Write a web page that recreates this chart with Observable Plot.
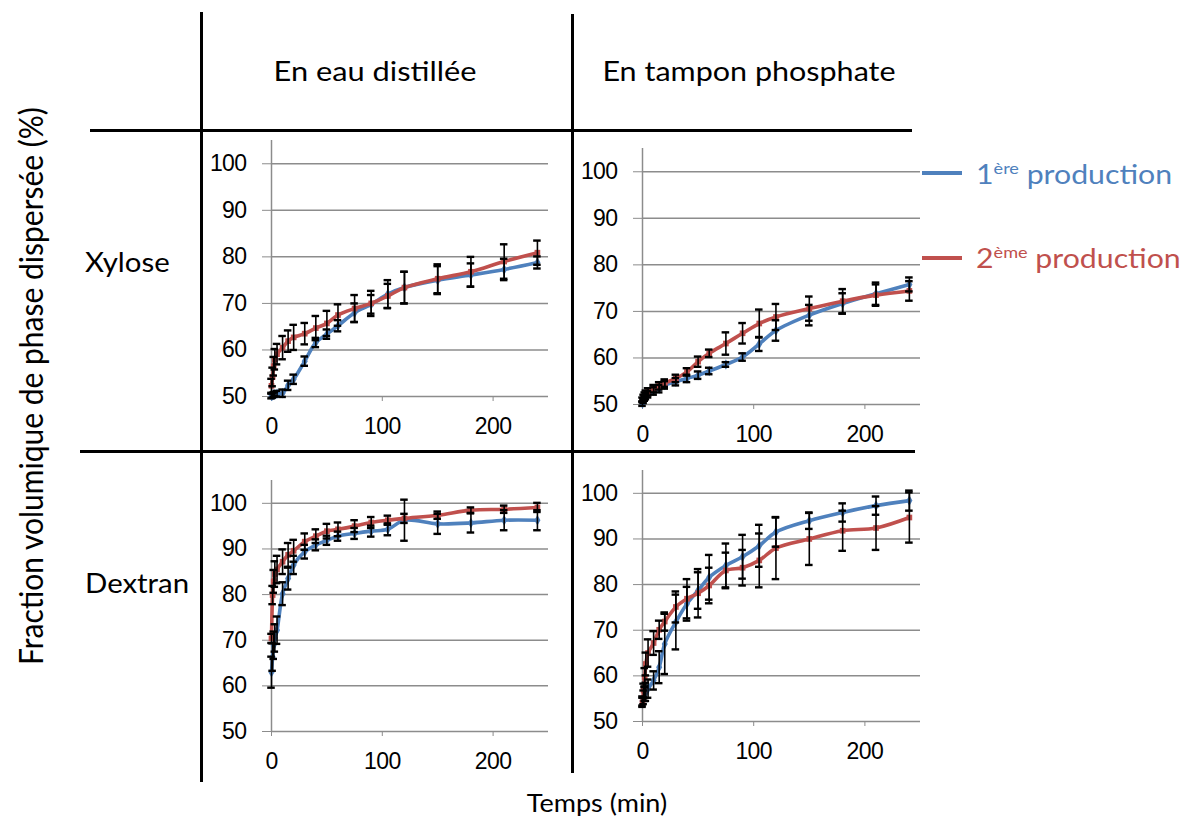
<!DOCTYPE html>
<html>
<head>
<meta charset="utf-8">
<script src="https://cdn.jsdelivr.net/npm/d3@7"></script>
<script src="https://cdn.jsdelivr.net/npm/@observablehq/plot@0.6"></script>
<style>
  html, body { margin: 0; padding: 0; background: #fff; }
  #root { position: relative; width: 1190px; height: 820px; background: #fff; overflow: hidden; font-family: Lato, "Open Sans", sans-serif; }
  .line { position: absolute; background: #000; }
  .txt { position: absolute; white-space: nowrap; color: #000; }
  .panel { position: absolute; }
  .panel svg [aria-label="y-axis tick"], .panel svg [aria-label="x-axis tick"] { stroke: #8c8c8c; }
  sup { font-size: 60%; vertical-align: 0; position: relative; top: -0.6em; }
</style>
</head>
<body>
<div id="root"></div>
<script>
// ---- data ----
const times = [0, 1, 2, 3, 5, 10, 15, 20, 30, 40, 50, 60, 75, 90, 105, 120, 150, 180, 210, 240];
const yTicks = [50, 60, 70, 80, 90, 100];
const xTicks = [0, 100, 200];
const rowLabels = ["Xylose", "Dextran"];
const colLabels = ["En eau distillée", "En tampon phosphate"];
const yTitle = "Fraction volumique de phase dispersée (%)";
const xTitle = "Temps (min)";

// Xylose, eau distillée
const xylEauP1 = [50.1, 50.2, 50.4, 50.5, 50.6, 50.7, 52.4, 53.7, 57.6, 61.6, 63.4, 65.2, 68.0, 69.8, 72.0, 73.4, 75.0, 76.1, 77.3, 78.8];
const xylEauP1Err = [0.5, 0.5, 0.5, 0.5, 0.6, 0.8, 1, 1, 1, 1, 1, 1.2, 2, 2, 3, 3.4, 3, 2.5, 2.3, 1.3];
const xylEauP2 = [52.3, 54.2, 56.5, 58.0, 59.1, 60.5, 61.9, 62.7, 63.5, 64.7, 65.7, 67.5, 68.9, 70.0, 71.6, 73.4, 75.3, 76.8, 79.0, 80.9];
const xylEauP2Err = [1.5, 2, 2, 2.2, 2.2, 2.5, 2.3, 2.7, 2.3, 2.6, 2.7, 2.3, 2.9, 2.7, 2.6, 3.4, 3.1, 3.2, 3.7, 2.6];
// Xylose, tampon phosphate
const xylTamP1 = [50.2, 50.8, 51.3, 51.7, 52.2, 52.9, 53.4, 54.2, 54.9, 55.6, 56.3, 57.2, 58.6, 60.2, 63.0, 65.9, 69.2, 71.7, 73.8, 75.8];
const xylTamP1Err = [0.5, 0.5, 0.5, 0.6, 0.7, 0.8, 0.8, 0.8, 0.8, 0.8, 0.8, 0.7, 0.5, 0.8, 1.5, 2.2, 2.2, 2.2, 2.4, 1.5];
const xylTamP2 = [51.0, 51.6, 52.0, 52.3, 52.7, 53.4, 54.0, 54.6, 55.6, 57.0, 59.2, 61.0, 63.1, 65.3, 67.4, 68.8, 70.6, 72.2, 73.5, 74.4];
const xylTamP2Err = [0.5, 0.5, 0.6, 0.7, 0.8, 0.8, 0.8, 0.8, 0.8, 0.8, 1.1, 0.8, 2.4, 2.2, 3, 2.8, 2.6, 2.6, 2.3, 2.1];
// Dextran, eau distillée
const dexEauP1 = [63.0, 66.3, 68.9, 70.5, 72.2, 80.2, 83.5, 86.5, 89.4, 90.9, 91.9, 92.8, 93.4, 93.9, 94.3, 96.3, 95.5, 95.7, 96.3, 96.3];
const dexEauP1Err = [3.4, 3, 3, 3, 3, 2.5, 2.4, 2, 1.5, 1.2, 1, 1, 1.2, 1.2, 1.3, 4.5, 2.2, 2.1, 2.2, 2.2];
const dexEauP2 = [70.4, 79.9, 82.9, 84.5, 85.5, 87.2, 88.7, 89.6, 91.6, 92.8, 93.9, 94.3, 95.0, 95.8, 96.3, 96.7, 97.4, 98.5, 98.7, 99.1];
const dexEauP2Err = [1, 2, 2.5, 2.8, 3, 2.7, 2.6, 2.4, 1.8, 1.5, 1.6, 1.5, 1.3, 1.2, 1, 1, 0.8, 0.6, 0.8, 1];
// Dextran, tampon phosphate
const dexTamP1 = [54.5, 55.3, 56.0, 56.5, 57.2, 59.0, 61.9, 67.0, 71.8, 75.8, 78.7, 81.6, 84.2, 86.1, 88.5, 91.5, 94.0, 95.8, 97.3, 98.4];
const dexTamP1Err = [1, 1.5, 1.5, 2, 2, 2, 3.5, 6.6, 6, 3.7, 4, 4.9, 4.8, 4.8, 4.6, 3.2, 1.8, 2, 2, 2.2];
const dexTamP2 = [54.2, 56.8, 59.7, 62.6, 65.0, 67.2, 70.1, 71.9, 75.1, 76.9, 78.1, 79.8, 83.1, 83.7, 85.3, 88.0, 90.0, 91.8, 92.4, 94.7];
const dexTamP2Err = [1, 1.5, 2, 2.5, 3, 2.6, 2, 2, 3.4, 4.3, 5.3, 3.9, 3.9, 3.9, 5.9, 6.8, 5.7, 4.4, 4.8, 5.5];

const colors = ["#4F81BD", "#C0504D"];

// ---- layout helpers ----
const root = document.getElementById("root");
function addDiv(cls, style, html) {
  const d = document.createElement("div");
  d.className = cls;
  Object.assign(d.style, style);
  if (html != null) d.innerHTML = html;
  root.appendChild(d);
  return d;
}

// table lines
addDiv("line", {left: "200px", top: "12px", width: "3px", height: "770px"});
addDiv("line", {left: "571px", top: "14px", width: "3px", height: "759px"});
addDiv("line", {left: "90px", top: "129px", width: "822px", height: "3px"});
addDiv("line", {left: "80px", top: "450px", width: "835px", height: "3px"});

// headers
addDiv("txt", {left: "375px", top: "70px", transform: "translate(-50%,-50%) scaleX(1.14)", fontSize: "27px"}, colLabels[0]);
addDiv("txt", {left: "749px", top: "70px", transform: "translate(-50%,-50%) scaleX(1.13)", fontSize: "27px"}, colLabels[1]);
addDiv("txt", {left: "85px", top: "262px", transform: "translate(0,-50%) scaleX(1.13)", transformOrigin: "0 50%", fontSize: "26px"}, rowLabels[0]);
addDiv("txt", {left: "85px", top: "583px", transform: "translate(0,-50%) scaleX(1.13)", transformOrigin: "0 50%", fontSize: "26px"}, rowLabels[1]);
addDiv("txt", {left: "30px", top: "386px", transform: "translate(-50%,-50%) rotate(-90deg) scaleY(1.1)", fontSize: "30px"}, yTitle);
addDiv("txt", {left: "597px", top: "802px", transform: "translate(-50%,-50%) scaleX(1.08)", fontSize: "25px"}, xTitle);

// legend
addDiv("line", {left: "922px", top: "171px", width: "40px", height: "4px", background: colors[0]});
addDiv("line", {left: "922px", top: "256px", width: "40px", height: "4px", background: colors[1]});
addDiv("txt", {left: "976px", top: "173px", transform: "translate(0,-50%) scaleX(1.12)", transformOrigin: "0 50%", fontSize: "27px", color: colors[0]}, "1<sup>ère</sup> production");
addDiv("txt", {left: "976px", top: "257px", transform: "translate(0,-50%) scaleX(1.12)", transformOrigin: "0 50%", fontSize: "27px", color: colors[1]}, "2<sup>ème</sup> production");

// ---- panels ----
const mL = 70, mT = 5, mR = 5, mB = 42;
function rows(vals, errs) {
  return times.map((t, i) => ({t, v: vals[i], lo: vals[i] - errs[i], hi: vals[i] + errs[i], c1: t - 3.4, c2: t + 3.4}));
}
function panel(left, top, w, h, s1, e1, s2, e2) {
  const d1 = rows(s1, e1), d2 = rows(s2, e2);
  const marks = [
    Plot.ruleY(yTicks, {stroke: "#8c8c8c", strokeWidth: 1.5}),
    Plot.ruleX([0], {y1: 50, y2: 105, stroke: "#8c8c8c", strokeWidth: 1.5})
  ];
  [[d1, colors[0], "diamond"], [d2, colors[1], "square"]].forEach(([d, c, sym]) => {
    marks.push(Plot.line(d, {x: "t", y: "v", stroke: c, strokeWidth: 3.6, curve: "catmull-rom"}));
    marks.push(Plot.dot(d, {x: "t", y: "v", fill: c, symbol: sym, r: 3.2}));
  });
  [d1, d2].forEach(d => {
    marks.push(Plot.ruleX(d, {x: "t", y1: "lo", y2: "hi", stroke: "#000", strokeWidth: 1.6}));
    marks.push(Plot.ruleY(d, {y: "lo", x1: "c1", x2: "c2", stroke: "#000", strokeWidth: 2.4}));
    marks.push(Plot.ruleY(d, {y: "hi", x1: "c1", x2: "c2", stroke: "#000", strokeWidth: 2.4}));
  });
  const chart = Plot.plot({
    width: w + mL + mR,
    height: h + mT + mB,
    marginLeft: mL, marginRight: mR, marginTop: mT, marginBottom: mB,
    style: {fontFamily: "'Liberation Sans', Arial, sans-serif", fontSize: "23px", letterSpacing: "-0.6px", background: "transparent", color: "#000"},
    x: {domain: [0, 250], ticks: xTicks, tickSize: 5, tickPadding: 16, label: null},
    y: {domain: [50, 105], ticks: yTicks, tickSize: 9, tickPadding: 16, label: null},
    marks
  });
  const wrap = addDiv("panel", {left: (left - mL) + "px", top: (top - mT) + "px"});
  wrap.appendChild(chart);
}

panel(271, 140, 277, 256, xylEauP1, xylEauP1Err, xylEauP2, xylEauP2Err);
panel(642, 148, 278, 256, xylTamP1, xylTamP1Err, xylTamP2, xylTamP2Err);
panel(271, 480, 277, 251, dexEauP1, dexEauP1Err, dexEauP2, dexEauP2Err);
panel(642, 470, 278, 251, dexTamP1, dexTamP1Err, dexTamP2, dexTamP2Err);
</script>
</body>
</html>
